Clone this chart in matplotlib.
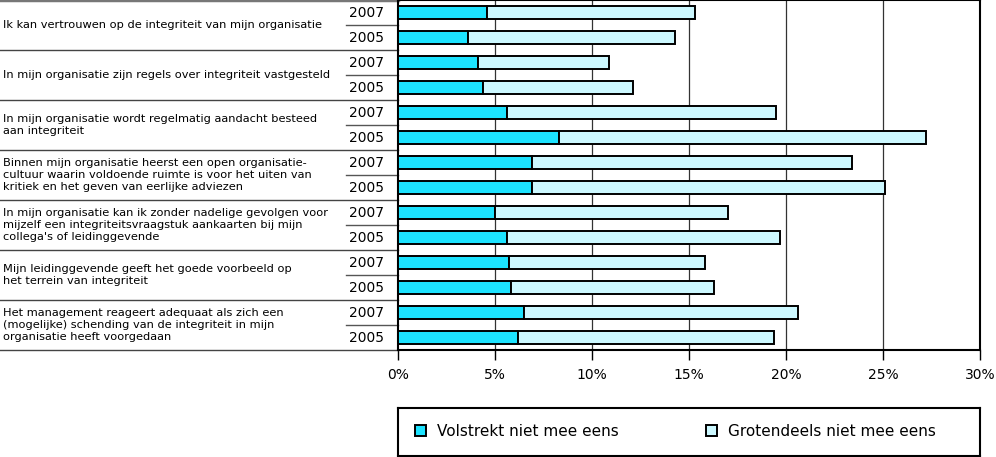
import numpy as np
import matplotlib
matplotlib.use("Agg")
import matplotlib.pyplot as plt
from matplotlib.patches import Patch
from matplotlib.transforms import blended_transform_factory

# Stellingen (van boven naar beneden)
stellingen = [
    "Ik kan vertrouwen op de integriteit van mijn organisatie",
    "In mijn organisatie zijn regels over integriteit vastgesteld",
    "In mijn organisatie wordt regelmatig aandacht besteed\naan integriteit",
    "Binnen mijn organisatie heerst een open organisatie-\ncultuur waarin voldoende ruimte is voor het uiten van\nkritiek en het geven van eerlijke adviezen",
    "In mijn organisatie kan ik zonder nadelige gevolgen voor\nmijzelf een integriteitsvraagstuk aankaarten bij mijn\ncollega's of leidinggevende",
    "Mijn leidinggevende geeft het goede voorbeeld op\nhet terrein van integriteit",
    "Het management reageert adequaat als zich een\n(mogelijke) schending van de integriteit in mijn\norganisatie heeft voorgedaan",
]
jaren = ["2007", "2005"]

# percentages per stelling: [2007, 2005]
volstrekt = [
    [4.6, 3.6],
    [4.1, 4.4],
    [5.6, 8.3],
    [6.9, 6.9],
    [5.0, 5.6],
    [5.7, 5.8],
    [6.5, 6.2],
]
grotendeels = [
    [10.7, 10.7],
    [6.8, 7.7],
    [13.9, 18.9],
    [16.5, 18.2],
    [12.0, 14.1],
    [10.1, 10.5],
    [14.1, 13.2],
]

xticks = [0, 5, 10, 15, 20, 25, 30]
reeksen = ["Volstrekt niet mee eens", "Grotendeels niet mee eens"]
kleuren = ["#1CE3FF", "#CCF8FF"]

W, H = 996, 457
fig = plt.figure(figsize=(W / 100, H / 100), dpi=100)
ax = fig.add_axes([398 / W, 107 / H, 582 / W, 350 / H])

v = np.array(volstrekt).ravel()
g = np.array(grotendeels).ravel()
rijen = np.arange(len(v))

ax.barh(rijen, v, height=0.5, color=kleuren[0], edgecolor="black", linewidth=1.4, zorder=3)
ax.barh(rijen, g, left=v, height=0.5, color=kleuren[1], edgecolor="black", linewidth=1.4, zorder=3)

ax.set_ylim(len(v) - 0.5, -0.5)
ax.set_xlim(0, 30)
ax.set_xticks(xticks)
ax.set_xticklabels([f"{t}%" for t in xticks], fontsize=10)
ax.set_yticks([])
ax.tick_params(axis="x", direction="out", length=7, width=1, pad=6)
for x in xticks[1:-1]:
    ax.axvline(x, color="#333333", linewidth=0.9, zorder=1)
for s in ax.spines.values():
    s.set_linewidth(1.5)
    s.set_color("black")

# linker tabel: stellingen en jaartallen
tr = blended_transform_factory(fig.transFigure, ax.transData)
ax.plot([0, 398 / W], [-0.5, -0.5], transform=tr, color="#777777", linewidth=2.5, clip_on=False)
for i, tekst in enumerate(stellingen):
    y0 = 2 * i
    ax.text(3 / W, y0 + 0.5, tekst, transform=tr, ha="left", va="center",
            fontsize=8.2, linespacing=1.2)
    for j, jaar in enumerate(jaren):
        ax.text(366 / W, y0 + j, jaar, transform=tr, ha="center", va="center", fontsize=10)
    ax.plot([346 / W, 398 / W], [y0 + 0.5, y0 + 0.5], transform=tr,
            color="#555555", linewidth=1, clip_on=False)
    ax.plot([0, 398 / W], [y0 + 1.5, y0 + 1.5], transform=tr,
            color="#444444", linewidth=1, clip_on=False)

# legenda
lax = fig.add_axes([398 / W, 1.5 / H, 582 / W, 48 / H])
lax.set_xticks([])
lax.set_yticks([])
for s in lax.spines.values():
    s.set_linewidth(1.5)
handles = [Patch(facecolor=c, edgecolor="black", linewidth=1.4) for c in kleuren]
lax.legend(handles, reeksen, ncol=2, loc="center left", bbox_to_anchor=(0.029, 0.5),
           frameon=False, fontsize=11, handlelength=0.75, handleheight=0.75,
           handletextpad=0.7, columnspacing=5.7, borderpad=0, borderaxespad=0)

fig.savefig("out.png", dpi=100)
